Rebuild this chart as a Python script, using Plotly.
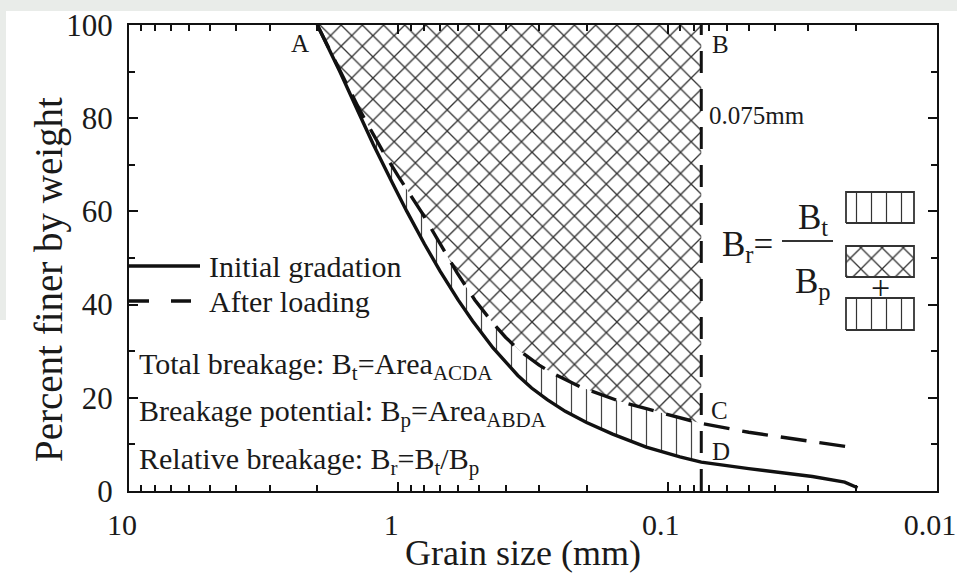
import numpy as np
import plotly.graph_objects as go

# Grain-size distribution curves (grain size in mm, percent finer by weight)
initial_size = [2.0, 1.65, 1.40, 1.24, 1.05, 0.93, 0.80, 0.70, 0.60, 0.53,
                0.445, 0.40, 0.36, 0.32, 0.28, 0.24, 0.20, 0.16, 0.12, 0.09,
                0.075, 0.05, 0.038, 0.029, 0.022, 0.0197]
initial_pct = [100, 90, 81, 74.4, 66, 60, 53, 47.2, 41.0, 36.5,
               30.7, 27.6, 24.8, 22.1, 19.6, 17.1, 14.7, 12.2, 9.4, 7.3,
               6.2, 4.8, 4.0, 3.1, 1.9, 0.7]

loaded_size = [2.0, 1.65, 1.40, 1.15, 1.0, 0.817, 0.70, 0.605, 0.52, 0.445,
               0.40, 0.353, 0.30, 0.266, 0.21, 0.15, 0.119, 0.0847, 0.075,
               0.05, 0.038, 0.0197]
loaded_pct = [100, 90.5, 82, 73.2, 67.5, 59.7, 53, 46.8, 41, 36,
              33.0, 30.0, 27.0, 25.2, 22.3, 19.2, 17.6, 15.4, 14.5,
              12.6, 11.6, 9.2]

sieve_mm = 0.075          # upper limit of the silt fraction
top_pct = 100

x_major_vals = [10, 1, 0.1, 0.01]
x_major_text = ["10", "1", "0.1", "0.01"]
x_minor_vals = [k * 10.0 ** e for e in (0, -1, -2) for k in range(2, 10)]
y_major_vals = [0, 20, 40, 60, 80, 100]
y_minor_vals = [10, 30, 50, 70, 90]

FONT = "Liberation Serif"
INK = "#111111"
TEXT = "#1a1a1a"

W, H = 957, 574
M_L, M_R, M_T, M_B = 129, 20, 25, 83
PW, PH = W - M_L - M_R, H - M_T - M_B
X_RANGE = [1.0004, -2.0004]


def px_x(px):
    """Pixel column -> paper fraction."""
    return (px - M_L) / PW


def px_y(py):
    """Pixel row -> paper fraction."""
    return (H - M_B - py) / PH


ini_s = np.array(initial_size)
ini_p = np.array(initial_pct)
ld_s = np.array(loaded_size)
ld_p = np.array(loaded_pct)

# Portions of the curves coarser than the 0.075 mm sieve
ini_mask = ini_s >= sieve_mm
ld_mask = ld_s >= sieve_mm

fig = go.Figure()

# Region ACDA: between initial and post-loading gradations (total breakage)
acda_x = np.concatenate([ini_s[ini_mask], ld_s[ld_mask][::-1]])
acda_y = np.concatenate([ini_p[ini_mask], ld_p[ld_mask][::-1]])
fig.add_trace(go.Scatter(
    x=acda_x, y=acda_y, mode="none", fill="toself", fillcolor="white",
    fillpattern=dict(shape="|", size=15, solidity=0.08, fgcolor="#444444",
                     bgcolor="white", fillmode="replace"),
    hoverinfo="skip", showlegend=False))

# Region ABCA: above post-loading gradation up to 100 %, left of the sieve line
abca_x = np.concatenate([ld_s[ld_mask], [sieve_mm, ld_s[0]]])
abca_y = np.concatenate([ld_p[ld_mask], [top_pct, top_pct]])
fig.add_trace(go.Scatter(
    x=abca_x, y=abca_y, mode="none", fill="toself", fillcolor="white",
    fillpattern=dict(shape="x", size=15, solidity=0.17, fgcolor="#333333",
                     bgcolor="white", fillmode="replace"),
    hoverinfo="skip", showlegend=False))

# Gradation curves
fig.add_trace(go.Scatter(
    x=initial_size, y=initial_pct, mode="lines", name="Initial gradation",
    line=dict(color=INK, width=3.4), showlegend=False))
fig.add_trace(go.Scatter(
    x=loaded_size, y=loaded_pct, mode="lines", name="After loading",
    line=dict(color=INK, width=3.4, dash="26px,13px"), showlegend=False))

# 0.075 mm sieve line
fig.add_trace(go.Scatter(
    x=[sieve_mm, sieve_mm], y=[0, top_pct], mode="lines",
    line=dict(color=INK, width=3, dash="22px,16px"),
    hoverinfo="skip", showlegend=False))

# Key boxes next to the Br formula (drawn on an overlay axis in plot fractions)
key_x0, key_x1 = px_x(846), px_x(914)
key_boxes = [
    (px_y(223), px_y(192), "|", 0.08),
    (px_y(277), px_y(246), "x", 0.17),
    (px_y(330), px_y(298), "|", 0.08),
]
for y0, y1, shape, sol in key_boxes:
    fig.add_trace(go.Scatter(
        x=[key_x0, key_x1, key_x1, key_x0, key_x0],
        y=[y0, y0, y1, y1, y0],
        xaxis="x2", yaxis="y2", mode="lines", fill="toself",
        fillcolor="white",
        fillpattern=dict(shape=shape, size=15, solidity=sol, fgcolor="#333333",
                         bgcolor="white", fillmode="replace"),
        line=dict(color="#333333", width=1.8),
        hoverinfo="skip", showlegend=False))

# Anchor trace for the overlay axes that carry the longer (major) ticks
fig.add_trace(go.Scatter(
    x=[1], y=[50], xaxis="x3", yaxis="y3", mode="markers",
    marker=dict(opacity=0), hoverinfo="skip", showlegend=False))

annotations = []


def label(text, x, y, size, xanchor="left", yanchor="middle", angle=0):
    annotations.append(dict(
        text=text, x=px_x(x), y=px_y(y), xref="paper", yref="paper",
        xanchor=xanchor, yanchor=yanchor, showarrow=False, textangle=angle,
        font=dict(family=FONT, size=size, color=TEXT)))


# Axis titles
label("Grain size (mm)", 523, 553, 36, xanchor="center")
label("Percent finer by weight", 49, 280, 39, xanchor="center", angle=-90)

# Point labels
label("A", 300, 43, 25, xanchor="center")
label("B", 710, 45, 25)
label("0.075mm", 707, 115, 25)
label("C", 709, 410, 25)
label("D", 710, 451, 25)

# Legend
label("Initial gradation", 207, 266, 30)
label("After loading", 207, 301, 30)

# Definitions
label("Total breakage: B<sub>t</sub>=Area<sub>ACDA</sub>", 137, 366, 30)
label("Breakage potential: B<sub>p</sub>=Area<sub>ABDA</sub>", 137, 413, 30)
label("Relative breakage: B<sub>r</sub>=B<sub>t</sub>/B<sub>p</sub>", 137, 461, 30)

# Relative breakage formula
label("B<sub>r</sub>=", 720, 247, 35)
label("B<sub>t</sub>", 813, 219, 35, xanchor="center")
label("B<sub>p</sub>", 813, 283, 35, xanchor="center")
label("+", 880, 287, 34, xanchor="center")

shapes = [
    # border band of the page
    dict(type="rect", xref="paper", yref="paper", layer="below",
         x0=px_x(0), x1=px_x(W), y0=px_y(11), y1=px_y(0),
         fillcolor="#e9ece9", line=dict(width=0)),
    dict(type="rect", xref="paper", yref="paper", layer="below",
         x0=px_x(0), x1=px_x(6), y0=px_y(320), y1=px_y(0),
         fillcolor="#e9ece9", line=dict(width=0)),
    # legend samples
    dict(type="line", xref="paper", yref="paper",
         x0=px_x(129), x1=px_x(200), y0=px_y(266), y1=px_y(266),
         line=dict(color=INK, width=3.4)),
    dict(type="line", xref="paper", yref="paper",
         x0=px_x(129), x1=px_x(200), y0=px_y(301), y1=px_y(301),
         line=dict(color=INK, width=3.4, dash="20px,22px")),
    # fraction bar
    dict(type="line", xref="paper", yref="paper",
         x0=px_x(782), x1=px_x(833), y0=px_y(241), y1=px_y(241),
         line=dict(color="#333333", width=2)),
]

# Main axes: labelled ticks plus all intermediate ticks (short)
x_tickvals = x_major_vals + x_minor_vals
x_ticktext = x_major_text + [""] * len(x_minor_vals)
y_tickvals = y_major_vals + y_minor_vals
y_ticktext = [str(v) for v in y_major_vals] + [""] * len(y_minor_vals)

axis_common = dict(
    showline=True, linewidth=2, linecolor=INK, mirror="allticks",
    ticks="inside", ticklen=6, tickwidth=1.5, tickcolor=INK,
    showgrid=False, zeroline=False,
    tickfont=dict(family=FONT, size=30, color=TEXT),
)
major_common = dict(
    showline=False, mirror="allticks", ticks="inside", ticklen=9,
    tickwidth=1.6, tickcolor=INK, showgrid=False, zeroline=False,
    showticklabels=False, tickmode="array", fixedrange=True,
)

fig.update_layout(
    width=W, height=H,
    margin=dict(l=M_L, r=M_R, t=M_T, b=M_B, autoexpand=False),
    paper_bgcolor="white", plot_bgcolor="white",
    font=dict(family=FONT, color=TEXT),
    xaxis=dict(
        type="log", range=X_RANGE,
        tickmode="array", tickvals=x_tickvals, ticktext=x_ticktext,
        ticklabelstandoff=6, ticklabeloverflow="allow", ticklabelshift=7,
        **axis_common),
    yaxis=dict(
        range=[0, 100], tickmode="array", tickvals=y_tickvals,
        ticktext=y_ticktext, ticklabelstandoff=8,
        **dict(axis_common, tickfont=dict(family=FONT, size=31, color=TEXT))),
    xaxis2=dict(overlaying="x", range=[0, 1], visible=False, fixedrange=True),
    yaxis2=dict(overlaying="y", range=[0, 1], visible=False, fixedrange=True),
    xaxis3=dict(overlaying="x", anchor="y3", type="log", range=X_RANGE,
                tickvals=x_major_vals, **major_common),
    yaxis3=dict(overlaying="y", anchor="x3", range=[0, 100],
                tickvals=y_major_vals, **major_common),
    annotations=annotations,
    shapes=shapes,
    showlegend=False,
)

fig.write_html("out.html")
